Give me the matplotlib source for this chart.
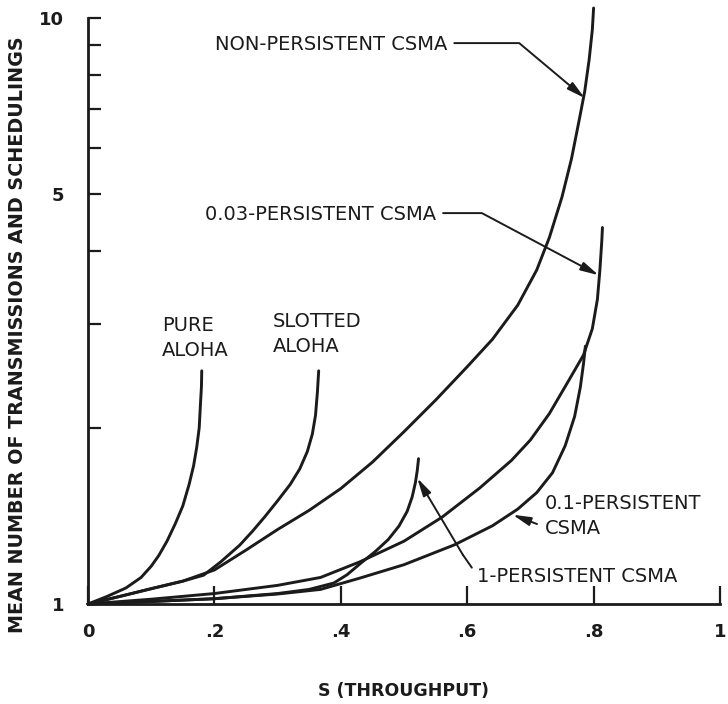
import numpy as np
import matplotlib
matplotlib.use("Agg")
import matplotlib.pyplot as plt
from matplotlib.ticker import NullFormatter

plt.rcParams['font.family'] = ['DejaVu Sans']

# ---- curves: S (throughput) vs mean number of transmissions ----
pure_s = [0, 0.03, 0.06, 0.084, 0.10, 0.112, 0.125, 0.138, 0.15, 0.16, 0.167, 0.172,
          0.176, 0.178, 0.1795, 0.18]
pure_y = [1, 1.03, 1.065, 1.11, 1.16, 1.21, 1.28, 1.37, 1.47, 1.60, 1.72, 1.85,
          2.0, 2.2, 2.35, 2.5]

slotted_s = [0, 0.05, 0.10, 0.15, 0.183, 0.21, 0.24, 0.26, 0.28, 0.30, 0.32, 0.335,
             0.347, 0.355, 0.36, 0.363, 0.365]
slotted_y = [1, 1.03, 1.062, 1.094, 1.12, 1.18, 1.26, 1.33, 1.41, 1.50, 1.60, 1.70,
             1.82, 1.95, 2.1, 2.3, 2.5]

nonp_s = [0, 0.05, 0.10, 0.15, 0.20, 0.25, 0.30, 0.35, 0.40, 0.45, 0.50, 0.55, 0.60,
          0.64, 0.68, 0.71, 0.73, 0.75, 0.765, 0.777, 0.786, 0.793, 0.798, 0.80]
nonp_y = [1, 1.03, 1.062, 1.094, 1.143, 1.236, 1.34, 1.445, 1.574, 1.746, 1.968, 2.228,
          2.54, 2.83, 3.236, 3.715, 4.22, 4.95, 5.75, 6.68, 7.5, 8.5, 9.55, 10.4]

p003_s = [0, 0.10, 0.20, 0.30, 0.368, 0.43, 0.50, 0.56, 0.62, 0.67, 0.70, 0.73, 0.76,
          0.784, 0.798, 0.806, 0.81, 0.813, 0.814]
p003_y = [1, 1.019, 1.042, 1.076, 1.11, 1.18, 1.28, 1.406, 1.578, 1.758, 1.905, 2.113,
          2.40, 2.66, 2.95, 3.31, 3.72, 4.17, 4.39]

p01_s = [0, 0.10, 0.20, 0.30, 0.368, 0.43, 0.50, 0.58, 0.64, 0.68, 0.71, 0.735, 0.755,
         0.77, 0.779, 0.784, 0.787]
p01_y = [1, 1.01, 1.021, 1.04, 1.059, 1.107, 1.167, 1.262, 1.36, 1.452, 1.549, 1.675,
         1.862, 2.09, 2.344, 2.57, 2.754]

p1_s = [0, 0.10, 0.20, 0.30, 0.35, 0.389, 0.41, 0.432, 0.455, 0.475, 0.492, 0.505,
        0.513, 0.518, 0.521, 0.523]
p1_y = [1, 1.01, 1.021, 1.042, 1.059, 1.086, 1.122, 1.175, 1.23, 1.288, 1.358, 1.439,
        1.524, 1.61, 1.69, 1.77]

x_ticks = [0, 0.2, 0.4, 0.6, 0.8, 1.0]
x_labels = ['0', '.2', '.4', '.6', '.8', '1']
y_major = [1, 5, 10]
y_labels = ['1', '5', '10']
y_minor = [2, 3, 4, 6, 7, 8, 9]

INK = '#1b1b1b'

fig = plt.figure(figsize=(7.28, 7.04), dpi=100)
ax = fig.add_axes([88 / 728, 100 / 704, 632 / 728, 601 / 704])
ax.set_yscale('log')
ax.set_xlim(0, 1)
ax.set_ylim(1, 10 ** (601 / 586))

for s, y in [(pure_s, pure_y), (slotted_s, slotted_y), (nonp_s, nonp_y),
             (p003_s, p003_y), (p01_s, p01_y), (p1_s, p1_y)]:
    ax.plot(s, y, color=INK, lw=2.1, solid_capstyle='round', solid_joinstyle='round',
            clip_on=False)

# axes styling
for side in ['top', 'right']:
    ax.spines[side].set_visible(False)
ax.spines['left'].set_bounds(1, 10)
for side in ['left', 'bottom']:
    ax.spines[side].set_linewidth(2.0)
    ax.spines[side].set_color(INK)

ax.set_xticks(x_ticks)
ax.set_xticklabels(x_labels, fontsize=13, fontweight='bold', color=INK)
ax.tick_params(axis='x', direction='in', length=13, width=1.6, pad=14, colors=INK)
ax.get_xticklines()[2].set_color('#bbbbbb')

ax.set_yticks(y_major)
ax.set_yticklabels(y_labels, fontsize=13, fontweight='bold', color=INK)
ax.set_yticks(y_minor, minor=True)
ax.yaxis.set_minor_formatter(NullFormatter())
ax.tick_params(axis='y', which='both', direction='in', length=9, width=1.6,
               pad=17, colors=INK)

ax.set_xlabel('S (THROUGHPUT)', fontsize=12.5, fontweight='bold', color=INK, labelpad=29)
fig.text(18 / 728, 1 - 335 / 704, 'MEAN NUMBER OF TRANSMISSIONS AND SCHEDULINGS',
         rotation=90, ha='center', va='center', fontsize=13.8, fontweight='bold', color=INK)

# curve labels
fs = 14
ax.text(162, 704 - 338, 'PURE\nALOHA', transform=None, ha='left', va='center',
        fontsize=fs, color=INK, linespacing=1.42)
ax.text(273, 704 - 334, 'SLOTTED\nALOHA', transform=None, ha='left', va='center',
        fontsize=fs, color=INK, linespacing=1.42)

arrow = dict(arrowstyle='-|>,head_length=0.9,head_width=0.22', color=INK, lw=1.4,
             shrinkA=3, shrinkB=0, mutation_scale=12)
leader = dict(arrowstyle='-', color=INK, lw=1.4, shrinkA=3, shrinkB=0)

ax.annotate('NON-PERSISTENT CSMA', xy=(0.786, 7.3), xycoords='data',
            xytext=(215, 704 - 45), textcoords='figure pixels', ha='left', va='center',
            fontsize=fs, color=INK,
            arrowprops=dict(arrow, relpos=(1, 0.6),
                            connectionstyle='angle,angleA=0,angleB=140'))
ax.annotate('0.03-PERSISTENT CSMA', xy=(0.808, 3.64), xycoords='data',
            xytext=(205, 704 - 215), textcoords='figure pixels', ha='left', va='center',
            fontsize=fs, color=INK,
            arrowprops=dict(arrow, relpos=(1, 0.6),
                            connectionstyle='angle,angleA=0,angleB=152'))
ax.annotate('0.1-PERSISTENT\nCSMA', xy=(0.672, 1.42), xycoords='data',
            xytext=(545, 704 - 516), textcoords='figure pixels', ha='left', va='center',
            fontsize=fs, color=INK, linespacing=1.42,
            arrowprops=dict(arrow, relpos=(0, 0.25), shrinkA=4))

# 1-persistent: short kinked leader from the text, then the long arrow
kink = (463, 704 - 555)
ax.annotate('1-PERSISTENT CSMA', xy=kink, xycoords='figure pixels',
            xytext=(477, 704 - 576), textcoords='figure pixels', ha='left', va='center',
            fontsize=fs, color=INK, arrowprops=dict(leader, relpos=(0, 0.55)))
ax.annotate('', xy=(0.521, 1.64), xycoords='data', xytext=kink,
            textcoords='figure pixels', arrowprops=dict(arrow, shrinkA=0))

fig.savefig('out.png', dpi=100, facecolor='white')
